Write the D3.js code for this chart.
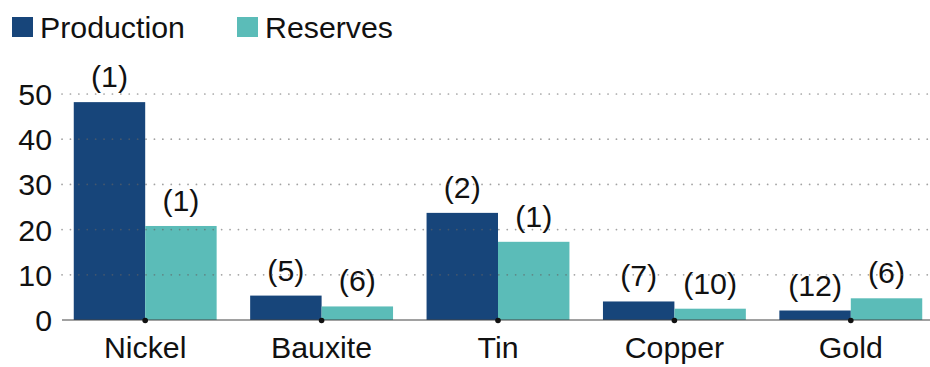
<!DOCTYPE html>
<html><head><meta charset="utf-8">
<script src="https://cdn.jsdelivr.net/npm/d3@7"></script>
<style>body{margin:0;background:#fff}svg{display:block;font-family:"Liberation Sans",Arial,sans-serif}</style>
</head><body>
<svg id="c" width="930" height="367"></svg>
<script>
const categories = ["Nickel","Bauxite","Tin","Copper","Gold"];
const production = [48.2, 5.4, 23.7, 4.1, 2.1];
const reserves = [20.8, 3.0, 17.3, 2.5, 4.8];
const productionRank = ["(1)","(5)","(2)","(7)","(12)"];
const reservesRank = ["(1)","(6)","(1)","(10)","(6)"];
const yTicks = [0,10,20,30,40,50];
const seriesNames = ["Production","Reserves"];
const colors = ["#17457a","#5bbcb8"];

const FS = 30.3;
const svg = d3.select("#c");
const x = d3.scaleBand().domain(categories).range([57,939]).paddingInner(0.19).paddingOuter(0.095);
const xs = d3.scaleBand().domain([0,1]).range([0,x.bandwidth()]);
const y = d3.scaleLinear().domain([0,50]).range([320,94]);

const series = [production, reserves];
const ranks = [productionRank, reservesRank];
series.forEach((vals,si)=>{
  svg.append("g").selectAll("rect").data(vals).join("rect")
    .attr("x",(d,i)=>x(categories[i])+xs(si))
    .attr("y",d=>y(d))
    .attr("width",xs.bandwidth())
    .attr("height",d=>y(0)-y(d))
    .attr("fill",colors[si]);
  svg.append("g").selectAll("text").data(vals).join("text")
    .attr("x",(d,i)=>x(categories[i])+xs(si)+xs.bandwidth()/2)
    .attr("y",d=>y(d)-15)
    .attr("text-anchor","middle")
    .attr("font-size",FS)
    .attr("fill","#111")
    .text((d,i)=>ranks[si][i]);
});

svg.append("g").selectAll("line").data(yTicks.filter(d=>d>0)).join("line")
  .attr("x1",62).attr("x2",930)
  .attr("y1",d=>y(d)).attr("y2",d=>y(d))
  .attr("stroke","rgba(100,100,100,0.6)")
  .attr("stroke-width",1.7)
  .attr("stroke-linecap","round")
  .attr("stroke-dasharray","0.1,8.3");

svg.append("g").selectAll("text").data(yTicks).join("text")
  .attr("x",52).attr("y",d=>y(d)).attr("dy","0.36em")
  .attr("text-anchor","end").attr("font-size",FS).attr("fill","#111")
  .text(d=>d);

svg.append("line").attr("x1",62).attr("x2",930).attr("y1",y(0)).attr("y2",y(0))
  .attr("stroke","#444").attr("stroke-width",1.2);
svg.append("g").selectAll("circle").data(categories).join("circle")
  .attr("cx",d=>x(d)+x.bandwidth()/2).attr("cy",y(0)+0.5).attr("r",2.8).attr("fill","#111");

svg.append("g").selectAll("text").data(categories).join("text")
  .attr("x",d=>x(d)+x.bandwidth()/2).attr("y",358)
  .attr("text-anchor","middle").attr("font-size",FS).attr("fill","#111")
  .text(d=>d);

const legX = [12,237];
seriesNames.forEach((n,i)=>{
  svg.append("rect").attr("x",legX[i]).attr("y",17).attr("width",21).attr("height",20).attr("fill",colors[i]);
  svg.append("text").attr("x",legX[i]+28).attr("y",38).attr("font-size",FS).attr("fill","#111").text(n);
});
</script>
</body></html>
